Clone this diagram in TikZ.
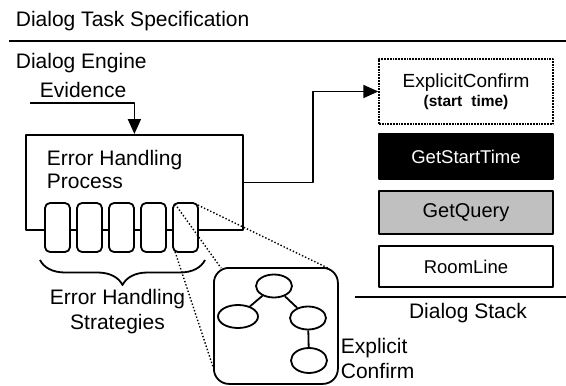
\documentclass[tikz,border=0pt]{standalone}
\usepackage{fontspec}
\setmainfont{Liberation Sans}
\usetikzlibrary{arrows.meta,shapes.geometric,decorations.pathreplacing}

\begin{document}
\begin{tikzpicture}[x=1pt,y=-1pt,line join=round,line width=1.8pt,>={Triangle[length=15pt,width=13pt]},
  txt/.style={inner sep=0pt,font=\fontsize{21}{25}\selectfont},
  stackbox/.style={draw,line width=1.8pt,minimum width=174pt,inner sep=0pt,align=center,font=\fontsize{19}{22}\selectfont},
  strategy/.style={draw,rounded corners=5pt,fill=white,minimum width=25pt,minimum height=49pt,inner sep=0pt},
  treenode/.style={draw,ellipse,minimum width=36pt,minimum height=23pt,inner sep=0pt},
  zoomline/.style={line width=1.4pt,dotted}]
\useasboundingbox (0,0) rectangle (566,386);
\node[txt,anchor=base west] (task) at (15,26) {Dialog Task Specification};
\draw[line width=2.8pt] (9,41) -- (566,41);
\node[txt,anchor=base west] (engine) at (15,68) {Dialog Engine};
\node[txt,anchor=base west] (evidence) at (39,97) {Evidence};
\coordinate (evstart) at (30,103);
\node[draw,minimum width=217pt,minimum height=95pt,inner sep=0pt,anchor=north west] (ehp) at (25,134) {};
\node[txt,anchor=base west] (ehp1) at (46,165) {Error Handling};
\node[txt,anchor=base west] (ehp2) at (46,188) {Process};
\draw[->] (evstart) -- (evstart -| ehp.north) -- (ehp.north);
\foreach \i in {1,...,5}
  \node[strategy] (s\i) at ({57.5+32*(\i-1)},227.5) {};
\draw[decorate,decoration={brace,mirror,amplitude=25pt}] (40,260) -- (205,260);
\node[txt,align=center,anchor=base] (strat) at (117.5,329) {Error Handling\\Strategies};
% zoomed strategy
\node[draw,rounded corners=15pt,minimum width=124pt,minimum height=116pt,inner sep=0pt,anchor=north west] (tree) at (213,267) {};
\node[treenode] (t1) at (274,286) {};
\node[treenode,minimum width=40pt] (t2) at (238,316.5) {};
\node[treenode] (t3) at (308,318) {};
\node[treenode,minimum height=25pt] (t4) at (309,360.5) {};
\draw (t1) -- (t2);
\draw (t1) -- (t3);
\draw (t3) -- (t4);
\node[txt,align=left,anchor=base west] (expl) at (340,378) {Explicit\\Confirm};
\draw[zoomline] ([shift={(3,2)}]s5.north west) -- ([shift={(8,1)}]tree.north west);
\draw[zoomline] ([shift={(3,-1)}]s5.south west) -- ([shift={(0,41)}]tree.west);
\draw[zoomline] ([shift={(-1,3)}]s5.north east) -- ([shift={(-11,1)}]tree.north east);
% dialog stack
\node[stackbox,densely dotted,line width=1.4pt,minimum height=65pt] (ec) at (466,91.5)
  {ExplicitConfirm\\[-3pt]{\fontsize{15.5}{17}\selectfont\bfseries (start\hspace{9pt}time)}};
\node[stackbox,fill=black,text=white,minimum height=45pt,font=\fontsize{18.5}{21}\selectfont] (gst) at (466,156.5) {GetStartTime};
\node[stackbox,fill={rgb,255:red,192;green,192;blue,192},minimum height=43pt,font=\fontsize{20}{22}\selectfont] (gq) at (466,212.5) {GetQuery};
\node[stackbox,minimum height=41pt,font=\fontsize{18.5}{21}\selectfont] (rl) at (466,266.5) {RoomLine};
\draw (355,297) -- (566,297);
\node[txt,anchor=base] (stack) at (468,318) {Dialog Stack};
\draw[->] (ehp.east) -- ++(69,0) |- (ec.west);
\end{tikzpicture}
\end{document}
